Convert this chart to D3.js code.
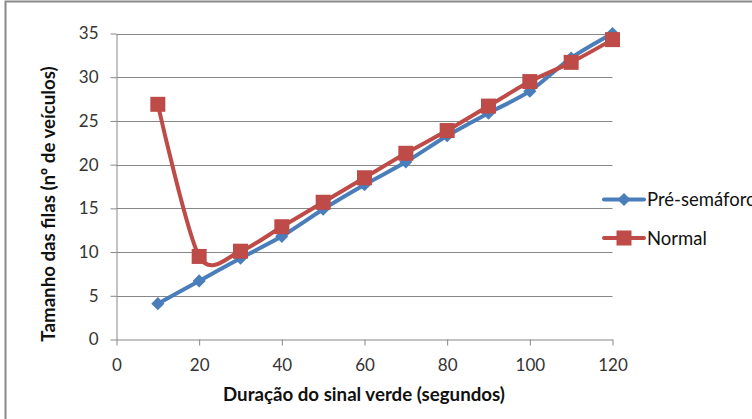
<!DOCTYPE html>
<html>
<head>
<meta charset="utf-8">
<script src="https://cdn.jsdelivr.net/npm/d3@7"></script>
<style>
  html, body { margin: 0; padding: 0; background: #fff; }
  svg { display: block; font-family: Lato, "Open Sans", sans-serif; }
</style>
</head>
<body>
<svg id="chart" width="752" height="419"></svg>
<script>
// Green-signal duration (seconds) and queue length for each scenario
const durations = [10, 20, 30, 40, 50, 60, 70, 80, 90, 100, 110, 120];
const preSemaforo = [4.1, 6.7, 9.3, 11.8, 14.9, 17.7, 20.3, 23.3, 25.9, 28.4, 32.2, 35.0];
const normal = [26.9, 9.5, 10.1, 12.9, 15.7, 18.5, 21.3, 23.9, 26.7, 29.5, 31.7, 34.3];
const xTicks = [0, 20, 40, 60, 80, 100, 120];
const yTicks = [0, 5, 10, 15, 20, 25, 30, 35];
const seriesNames = ["Pré-semáforo", "Normal"];
const xTitle = "Duração do sinal verde (segundos)";
const yTitle = "Tamanho das filas (nº de veículos)";

const svg = d3.select("#chart");
const gridColor = "#878787";
const blue = "#4A7EBB";
const red = "#BE4B48";

// chart frame
svg.append("rect")
  .attr("x", 5.5).attr("y", 1.5)
  .attr("width", 800).attr("height", 500)
  .attr("fill", "none").attr("stroke", "#8a8a8a").attr("stroke-width", 2);

const x = d3.scaleLinear().domain([0, 120]).range([116.5, 612.5]);
const y = d3.scaleLinear().domain([0, 35]).range([339.5, 33.5]);

// horizontal gridlines
svg.append("g")
  .selectAll("line")
  .data(yTicks.filter(d => d > 0))
  .join("line")
  .attr("x1", x(0)).attr("x2", x(120))
  .attr("y1", d => Math.round(y(d)) + 0.5).attr("y2", d => Math.round(y(d)) + 0.5)
  .attr("stroke", gridColor).attr("stroke-width", 1);

// y axis
const yAxis = svg.append("g")
  .attr("transform", `translate(${x(0)},0)`)
  .call(d3.axisLeft(y).tickValues(yTicks).tickSize(6).tickPadding(12).tickSizeOuter(0));
yAxis.select(".domain").attr("stroke", gridColor);
yAxis.selectAll(".tick line").attr("stroke", gridColor);
yAxis.selectAll("text").attr("font-size", 17).attr("fill", "#333").attr("font-family", "Lato, sans-serif");

// x axis
const xAxis = svg.append("g")
  .attr("transform", `translate(0,${y(0)})`)
  .call(d3.axisBottom(x).tickValues(xTicks).tickSize(6).tickPadding(13).tickSizeOuter(0));
xAxis.select(".domain").attr("stroke", gridColor);
xAxis.selectAll(".tick line").attr("stroke", gridColor);
xAxis.selectAll("text").attr("font-size", 17).attr("fill", "#333").attr("font-family", "Lato, sans-serif");

// axis titles
svg.append("text")
  .attr("x", 364).attr("y", 401)
  .attr("text-anchor", "middle")
  .attr("font-size", 18.7).attr("font-weight", "bold").attr("fill", "#111")
  .text(xTitle);

svg.append("text")
  .attr("transform", "translate(55,204) rotate(-90)")
  .attr("text-anchor", "middle")
  .attr("font-size", 18.7).attr("font-weight", "bold").attr("fill", "#111")
  .text(yTitle);

const line = d3.line()
  .x(d => x(d[0]))
  .y(d => y(d[1]))
  .curve(d3.curveCardinal.tension(0.15));

const series = [
  { name: seriesNames[0], values: preSemaforo, color: blue, marker: "diamond" },
  { name: seriesNames[1], values: normal, color: red, marker: "square" }
];

const diamond = d3.symbol().type(d3.symbolDiamond2).size(110);

function drawMarker(g, type, color) {
  if (type === "square") {
    g.append("rect")
      .attr("x", -7.5).attr("y", -7.5).attr("width", 15).attr("height", 15)
      .attr("fill", color);
  } else {
    g.append("path").attr("d", diamond).attr("fill", color);
  }
}

series.forEach(s => {
  const pts = durations.map((d, i) => [d, s.values[i]]);
  svg.append("path")
    .datum(pts)
    .attr("d", line)
    .attr("fill", "none")
    .attr("stroke", s.color)
    .attr("stroke-width", 4)
    .attr("stroke-linejoin", "round")
    .attr("stroke-linecap", "round");
  pts.forEach(p => {
    const g = svg.append("g").attr("transform", `translate(${x(p[0])},${y(p[1])})`);
    drawMarker(g, s.marker, s.color);
  });
});

// legend
const legend = svg.append("g");
series.forEach((s, i) => {
  const ly = 199.5 + i * 38.5;
  legend.append("line")
    .attr("x1", 604).attr("x2", 644).attr("y1", ly).attr("y2", ly)
    .attr("stroke", s.color).attr("stroke-width", 4).attr("stroke-linecap", "round");
  const g = legend.append("g").attr("transform", `translate(624,${ly})`);
  drawMarker(g, s.marker, s.color);
  legend.append("text")
    .attr("x", 647).attr("y", ly + 6.5)
    .attr("font-size", 18.5).attr("fill", "#111")
    .text(s.name);
});
</script>
</body>
</html>
